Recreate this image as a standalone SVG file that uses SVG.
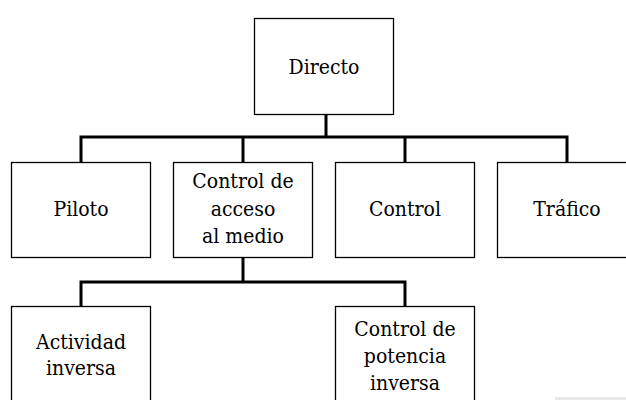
<svg xmlns="http://www.w3.org/2000/svg" width="626" height="400" viewBox="0 0 626 400">
<style>
.box{fill:#fff;stroke:#000;stroke-width:1.3}
.con{fill:none;stroke:#000;stroke-width:3;stroke-linecap:square}
</style>
<rect width="626" height="400" fill="#fff"/>
<g id="connectors">
<path class="con" d="M326 114V137M81 137H567M81 137V162M243 137V162M405 137V162M567 137V162"/>
<path class="con" d="M243 258V282M81 282H405M81 282V306M405 282V306"/>
</g>
<g font-family="'DejaVu Serif Condensed', 'DejaVu Serif', serif" font-stretch="condensed" font-size="21" text-anchor="middle" fill="#000">
<g id="directo"><rect class="box" x="254.5" y="18.5" width="139" height="96"/><text x="324" y="74">Directo</text></g>
<g id="piloto"><rect class="box" x="11.5" y="162.5" width="139" height="95"/><text x="81" y="216">Piloto</text></g>
<g id="control-acceso"><rect class="box" x="173.5" y="162.5" width="139" height="95"/><text x="243" y="188">Control de</text><text x="243" y="216">acceso</text><text x="243" y="243">al medio</text></g>
<g id="control"><rect class="box" x="335.5" y="162.5" width="139" height="95"/><text x="405" y="216">Control</text></g>
<g id="trafico"><rect class="box" x="497.5" y="162.5" width="139" height="95"/><text x="567" y="216">Tráfico</text></g>
<g id="actividad"><rect class="box" x="11.5" y="306.5" width="139" height="96"/><text x="81" y="349">Actividad</text><text x="81" y="375">inversa</text></g>
<g id="potencia"><rect class="box" x="335.5" y="306.5" width="139" height="96"/><text x="405" y="336">Control de</text><text x="405" y="363">potencia</text><text x="405" y="390">inversa</text></g>
</g>
<rect x="555" y="397" width="71" height="3" fill="#e8e8e8"/>
</svg>
